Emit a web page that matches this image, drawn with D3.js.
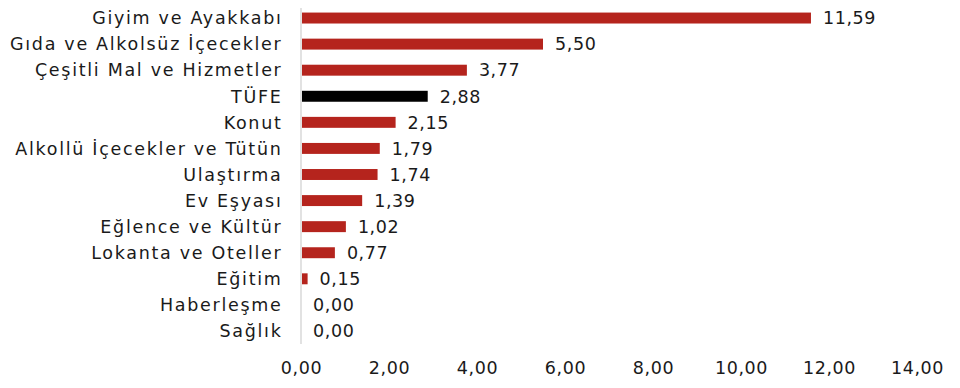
<!DOCTYPE html>
<html>
<head>
<meta charset="utf-8">
<script src="https://cdn.jsdelivr.net/npm/d3@7"></script>
<style>
body { margin: 0; background: #fff; }
text { font-family: "DejaVu Sans", sans-serif; fill: #1a1a1a; }
</style>
</head>
<body>
<div id="chart"></div>
<script>
var categories = ["Giyim ve Ayakkabı", "Gıda ve Alkolsüz İçecekler", "Çeşitli Mal ve Hizmetler", "TÜFE", "Konut",
	"Alkollü İçecekler ve Tütün", "Ulaştırma", "Ev Eşyası", "Eğlence ve Kültür", "Lokanta ve Oteller",
	"Eğitim", "Haberleşme", "Sağlık"];
var values = [11.59, 5.50, 3.77, 2.88, 2.15, 1.79, 1.74, 1.39, 1.02, 0.77, 0.15, 0.00, 0.00];
var ticks = [0, 2, 4, 6, 8, 10, 12, 14];

var w = 960, h = 388;
var fs = "17.5px";
var f = function(v) { return d3.format(".2f")(v).replace(".", ","); };

var svg = d3.select("#chart").append("svg")
	.attr("width", w)
	.attr("height", h)

var x = d3.scaleLinear()
	.domain([0, 14])
	.range([301, 917])

var y = d3.scaleBand()
	.domain(categories)
	.range([5, 344])
	.paddingInner(0.58)
	.paddingOuter(0.29)

svg.append("line")
	.attr("x1", x(0)).attr("x2", x(0))
	.attr("y1", 8).attr("y2", 344)
	.style("stroke", "#d9d9d9")
	.style("stroke-width", 1.5)

svg.selectAll(".bar")
	.data(values)
	.enter()
	.append("rect")
	.attr("class", "bar")
	.attr("x", x(0) + 1)
	.attr("y", function(d, i) { return y(categories[i]) })
	.attr("width", function(d) { return Math.max(0, x(d) - x(0) - 1) })
	.attr("height", y.bandwidth())
	.style("fill", function(d, i) { return categories[i] == "TÜFE" ? "#000000" : "#b5241d" })

svg.selectAll(".val")
	.data(values)
	.enter()
	.append("text")
	.attr("class", "val")
	.text(function(d) { return f(d) })
	.attr("x", function(d) { return x(d) + 12 })
	.attr("y", function(d, i) { return y(categories[i]) + y.bandwidth() / 2 })
	.attr("dy", "0.36em")
	.style("font-size", fs)
	.style("letter-spacing", "0.6px")

svg.selectAll(".cat")
	.data(categories)
	.enter()
	.append("text")
	.attr("class", "cat")
	.text(function(d) { return d })
	.attr("x", 282.5)
	.attr("y", function(d) { return y(d) + y.bandwidth() / 2 })
	.attr("dy", "0.36em")
	.style("text-anchor", "end")
	.style("font-size", fs)
	.style("letter-spacing", "1.7px")

var xAxis = d3.axisBottom(x).tickValues(ticks).tickSize(0).tickFormat(f);

var g = svg.append("g")
	.attr("transform", "translate(0, 359)")
	.call(xAxis)
g.select(".domain").remove()
g.selectAll("text")
	.style("font-size", fs)
	.style("fill", "#1a1a1a")
	.style("font-family", "'DejaVu Sans', sans-serif")
	.style("letter-spacing", "0.6px")
</script>
</body>
</html>
